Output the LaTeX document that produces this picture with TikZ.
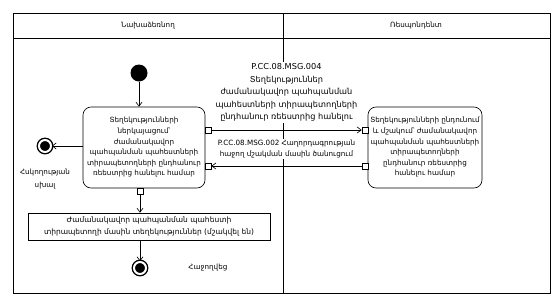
\documentclass[tikz,border=0pt]{standalone}
\usepackage{fontspec}
\setmainfont{DejaVu Sans}
\usetikzlibrary{arrows.meta,positioning,calc}

\begin{document}
\begin{tikzpicture}[x=1pt,y=-1pt,>={Straight Barb[length=4pt,width=6pt]},font=\fontsize{7.2}{10.6}\selectfont,line width=0.65pt]
  \tikzstyle{act}=[draw,rounded corners=8pt,minimum height=81pt,align=center,inner sep=2pt]
  \tikzstyle{port}=[draw,fill=white,minimum size=6pt,inner sep=0pt]
  \tikzstyle{final}=[circle,draw,double,double distance=2pt,line width=1.4pt,fill=black,minimum size=12pt,inner sep=0pt]
  \tikzstyle{msg}=[fill=white,align=center,inner sep=1pt]
  \useasboundingbox (0,0) rectangle (560,301);
  % swimlanes
  \draw (13,13) rectangle (550,293);
  \draw (13,38) -- (550,38);
  \draw (283,13) -- (283,293);
  \node (laneA) at (148,25.5) {Նախաձեռնող};
  \node (laneB) at (416,25.5) {Ռեսպոնդենտ};
  % initiator
  \node[circle,fill,minimum size=17pt,inner sep=0pt] (start) at (139,73) {};
  \node[act,minimum width=122pt] (send) at (144,147.5) {Տեղեկությունների\\ներկայացում՝\\ժամանակավոր\\պահպանման պահեստների\\տիրապետողների ընդհանուր\\ռեեստրից հանելու համար};
  \node[port] (sendA) at (208,130) {};
  \node[port] (sendB) at (208,166) {};
  \node[port] (sendC) at (140,191) {};
  \node[final] (fail) at (45,146) {};
  \node[below=13pt of fail,align=center,font=\fontsize{7.2}{13}\selectfont] (failtxt) {Հսկողության\\սխալ};
  \node[draw,minimum width=242pt,minimum height=27pt,align=center,inner sep=1pt,font=\fontsize{7.5}{12.5}\selectfont] (info) at (149,226.5) {Ժամանակավոր պահպանման պահեստի\\տիրապետողի մասին տեղեկություններ (մշակվել են)};
  \node[final] (done) at (140,268) {};
  \node[right=38pt of done] (donetxt) {Հաջողվեց};
  % respondent
  \node[act,minimum width=114pt] (recv) at (425,147.5) {Տեղեկությունների ընդունում\\և մշակում՝ ժամանակավոր\\պահպանման պահեստների\\տիրապետողների\\ընդհանուր ռեեստրից\\հանելու համար};
  \node[port] (recvA) at (365,130) {};
  \node[port] (recvB) at (365,166) {};
  % flows
  \draw[->] (start) -- (start |- send.north);
  \draw[->] (send.west |- fail) -- (fail);
  \draw[->] (sendC) -- (sendC |- info.north);
  \draw[->] (info.south -| done) -- (done);
  \draw[->] (sendA) -- node[msg,above=7pt,font=\fontsize{8.2}{12.6}\selectfont] {P.CC.08.MSG.004\\Տեղեկություններ\\ժամանակավոր պահպանման\\պահեստների տիրապետողների\\ընդհանուր ռեեստրից հանելու} (recvA);
  \draw[->] (recvB) -- node[msg,above=7pt,font=\fontsize{7.2}{10.5}\selectfont] {P.CC.08.MSG.002 Հաղորդագրության\\հաջող մշակման մասին ծանուցում} (sendB);
\end{tikzpicture}
\end{document}
